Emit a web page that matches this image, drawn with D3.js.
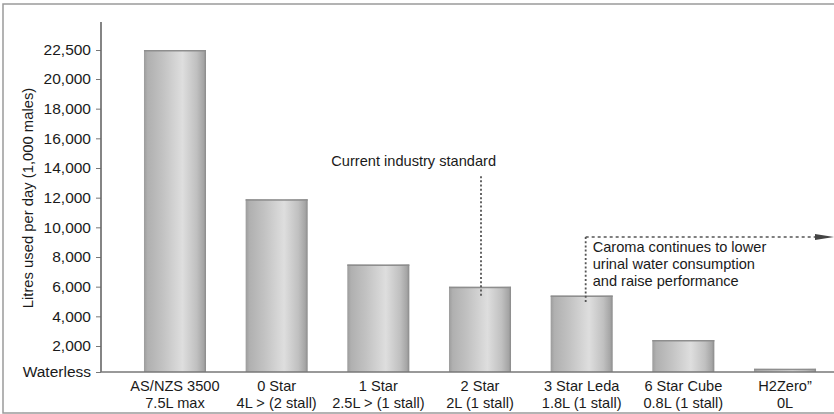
<!DOCTYPE html>
<html>
<head>
<meta charset="utf-8">
<script src="https://cdn.jsdelivr.net/npm/d3@7/dist/d3.min.js"></script>
<style>
  html, body { margin: 0; padding: 0; background: #fff; }
  svg { display: block; }
  text { font-family: "Liberation Sans", Arial, sans-serif; fill: #1a1a1a; }
</style>
</head>
<body>
<svg id="chart" width="834" height="414"></svg>
<script>
// ---- data ----
const categories = ["AS/NZS 3500", "0 Star", "1 Star", "2 Star", "3 Star Leda", "6 Star Cube", "H2Zero\u201D"];
const subLabels  = ["7.5L max", "4L > (2 stall)", "2.5L > (1 stall)", "2L (1 stall)", "1.8L (1 stall)", "0.8L (1 stall)", "0L"];
const litres     = [22500, 11900, 7500, 6000, 5400, 2400, 250];
const tickValues = [0, 2000, 4000, 6000, 8000, 10000, 12000, 14000, 16000, 18000, 20000, 22500];
const tickLabels = ["Waterless", "2,000", "4,000", "6,000", "8,000", "10,000", "12,000", "14,000", "16,000", "18,000", "20,000", "22,500"];
const yTitle = "Litres used per day (1,000 males)";
const note1 = ["Current industry standard"];
const note2 = ["Caroma continues to lower", "urinal water consumption", "and raise performance"];

// ---- layout ----
const svg = d3.select("#chart");
const W = 834, H = 414;
const axisX = 101, baseY = 372, axisTop = 22;

svg.append("rect").attr("x", 3).attr("y", 4).attr("width", W + 10).attr("height", 409)
  .attr("fill", "none").attr("stroke", "#9a9a9a").attr("stroke-width", 1.5);

const x = d3.scaleBand().domain(categories).range([124.15, 835.85])
  .paddingInner(0.39).paddingOuter(0.195);
const y = d3.scaleLinear().domain([0, 2000, 20000, 22500]).range([baseY, 346, 79, 50]);

// gradient
const defs = svg.append("defs");
const g = defs.append("linearGradient").attr("id", "cyl").attr("x1", "0").attr("x2", "1").attr("y1", "0").attr("y2", "0");
[[0, "#9c9c9c"], [0.06, "#b0b0b0"], [0.3, "#c2c2c2"], [0.62, "#dedede"], [0.85, "#c0c0c0"], [0.96, "#a5a5a5"], [1, "#8a8a8a"]]
  .forEach(([o, c]) => g.append("stop").attr("offset", o).attr("stop-color", c));

// bars
const bars = svg.append("g");
bars.selectAll("rect.bar").data(litres).join("rect")
  .attr("class", "bar")
  .attr("x", (d, i) => x(categories[i]))
  .attr("width", x.bandwidth())
  .attr("y", d => y(d))
  .attr("height", d => baseY - y(d))
  .attr("fill", "url(#cyl)");
bars.selectAll("line.rim").data(litres).join("line")
  .attr("class", "rim")
  .attr("x1", (d, i) => x(categories[i]))
  .attr("x2", (d, i) => x(categories[i]) + x.bandwidth())
  .attr("y1", d => y(d) + 0.75).attr("y2", d => y(d) + 0.75)
  .attr("stroke", "#8e8e8e").attr("stroke-width", 1.5);

// y axis
const yAxis = d3.axisLeft(y).tickValues(tickValues).tickSize(5).tickPadding(5)
  .tickFormat((d, i) => tickLabels[i]);
const ya = svg.append("g").attr("transform", `translate(${axisX},0)`).call(yAxis);
ya.select(".domain").remove();
ya.selectAll(".tick line").attr("stroke", "#777").attr("stroke-width", 1);
ya.selectAll(".tick text").attr("font-size", 15.5).attr("fill", "#1a1a1a")
  .attr("font-family", "'Liberation Sans', Arial, sans-serif");
svg.append("line").attr("x1", axisX).attr("x2", axisX).attr("y1", axisTop).attr("y2", baseY)
  .attr("stroke", "#666").attr("stroke-width", 1.6);
svg.append("line").attr("x1", axisX).attr("x2", W).attr("y1", baseY).attr("y2", baseY)
  .attr("stroke", "#777").attr("stroke-width", 1.6);

svg.append("text").attr("transform", `translate(33,${198}) rotate(-90)`)
  .attr("text-anchor", "middle").attr("font-size", 14.8).text(yTitle);

// x labels
const xl = svg.append("g").attr("class", "xl");
categories.forEach((c, i) => {
  const cx = x(c) + x.bandwidth() / 2;
  xl.append("text").attr("x", cx).attr("y", 391).attr("text-anchor", "middle").attr("font-size", 14.6).text(c);
  xl.append("text").attr("x", cx).attr("y", 408).attr("text-anchor", "middle").attr("font-size", 14.6).text(subLabels[i]);
});

// annotation 1
const cx4 = x(categories[3]) + x.bandwidth() / 2 + 1;
svg.append("line").attr("x1", cx4).attr("x2", cx4).attr("y1", y(13450)).attr("y2", y(5300))
  .attr("stroke", "#555").attr("stroke-width", 1.8).attr("stroke-dasharray", "2,2.2");
svg.append("text").attr("x", cx4 + 15).attr("y", 166).attr("text-anchor", "end").attr("font-size", 14.6).text(note1[0]);

// annotation 2
const cx5 = x(categories[4]) + x.bandwidth() / 2 + 4;
const yArr = y(9350);
svg.append("line").attr("x1", cx5).attr("x2", cx5).attr("y1", yArr).attr("y2", y(4900))
  .attr("stroke", "#555").attr("stroke-width", 1.8).attr("stroke-dasharray", "2,2.2");
svg.append("line").attr("x1", cx5).attr("x2", 816).attr("y1", yArr).attr("y2", yArr)
  .attr("stroke", "#555").attr("stroke-width", 1.4).attr("stroke-dasharray", "3,3");
svg.append("path").attr("d", `M815,${yArr - 3} L834,${yArr} L815,${yArr + 3} Z`).attr("fill", "#444");
note2.forEach((t, i) => {
  svg.append("text").attr("x", cx5 + 7).attr("y", 252 + i * 17).attr("font-size", 14.6).text(t);
});
</script>
</body>
</html>
